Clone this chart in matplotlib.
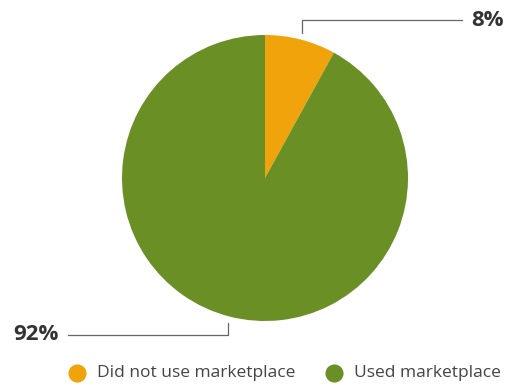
import numpy as np
import matplotlib
matplotlib.use('Agg')
import matplotlib.pyplot as plt

labels = ['Did not use marketplace', 'Used marketplace']
shares = [8, 92]
colours = ['#F0A30A', '#6A8F25']

plt.rcParams['font.family'] = ['Open Sans', 'DejaVu Sans']

W, H = 507, 384
fig = plt.figure(figsize=(W / 100, H / 100), dpi=100)
ax = fig.add_axes([0, 0, 1, 1])

# pie centre and radius in pixel units (y measured from bottom)
cx, cy, r = 265, H - 178, 143
wedges, _ = ax.pie(shares, colors=colours, startangle=90, counterclock=False,
                   center=(cx, cy), radius=r, frame=True,
                   wedgeprops=dict(linewidth=0))
ax.set_xlim(0, W)
ax.set_ylim(0, H)
ax.set_aspect('equal')
ax.axis('off')

# callout lines
line_kw = dict(color='#666666', lw=0.9)
for w, s in zip(wedges, shares):
    mid = np.deg2rad((w.theta1 + w.theta2) / 2)
    x0 = cx + r * 1.05 * np.cos(mid)
    y0 = cy + r * 1.05 * np.sin(mid)
    if np.sin(mid) > 0:
        yk = H - 20
        ax.plot([x0, x0, 462], [y0, yk, yk], **line_kw)
        ax.text(471, yk, f'{s}%', ha='left', va='center', fontsize=16,
                fontweight='bold', color='#333333')
    else:
        yk = H - 335
        ax.plot([x0, x0, 68], [y0, yk, yk], **line_kw)
        ax.text(59, yk, f'{s}%', ha='right', va='center', fontsize=16,
                fontweight='bold', color='#333333')

# legend
leg_x = [77, 334]
leg_y = H - 373
for x, lab, c in zip(leg_x, labels, colours):
    ax.scatter([x], [leg_y], s=170, color=c, linewidths=0)
    ax.text(x + 20, leg_y, lab, ha='left', va='center', fontsize=12.5,
            color='#444444')

fig.savefig('out.png', dpi=100)
